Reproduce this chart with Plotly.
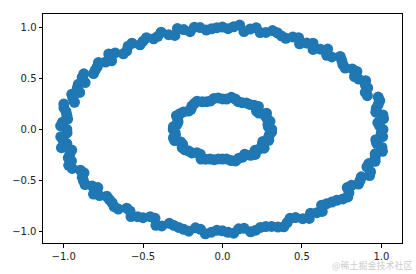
import plotly.graph_objects as go

# outer ring, pass 1
outer_x = [1.010, 0.978, 1.010, 0.968, 0.990, 0.912, 0.914, 0.901, 0.831, 0.817, 0.758, 0.741,
           0.656, 0.616, 0.570, 0.485, 0.443, 0.371, 0.315, 0.237, 0.174, 0.108, 0.035,
           -0.035, -0.102, -0.177, -0.244, -0.300, -0.386, -0.434, -0.500, -0.570, -0.603, -0.676,
           -0.698, -0.781, -0.801, -0.873, -0.865, -0.914, -0.949, -0.932, -0.998, -0.980, -1.008, -0.980,
           -1.018, -0.980, -0.949, -0.971, -0.968, -0.895, -0.883, -0.865, -0.785, -0.774, -0.712,
           -0.682, -0.603, -0.576, -0.500, -0.425, -0.382, -0.306, -0.244, -0.170, -0.108, -0.035,
           0.035, 0.102, 0.177, 0.239, 0.309, 0.386, 0.425, 0.505, 0.554, 0.628, 0.656, 0.719,
           0.789, 0.785, 0.856, 0.874, 0.932, 0.921, 0.961, 1.007, 0.970, 1.008]
outer_y = [0.000, 0.068, 0.142, 0.206, 0.284, 0.332, 0.407, 0.479, 0.519, 0.594, 0.636, 0.716,
           0.728, 0.788, 0.846, 0.840, 0.908, 0.918, 0.970, 0.951, 0.985, 1.024, 0.989,
           0.999, 0.975, 1.004, 0.980, 0.923, 0.955, 0.890, 0.866, 0.846, 0.772, 0.751,
           0.674, 0.656, 0.582, 0.546, 0.460, 0.407, 0.345, 0.267, 0.212, 0.138, 0.070, 0.000,
           -0.071, -0.138, -0.202, -0.278, -0.352, -0.399, -0.470, -0.540, -0.570, -0.649, -0.688,
           -0.758, -0.772, -0.854, -0.866, -0.872, -0.946, -0.942, -0.980, -0.965, -1.024, -0.989,
           -1.009, -0.975, -1.004, -0.961, -0.951, -0.955, -0.872, -0.875, -0.821, -0.804, -0.728, -0.695,
           -0.662, -0.570, -0.535, -0.465, -0.415, -0.335, -0.276, -0.214, -0.136, -0.070]

# outer ring, pass 2
outer2_x = [0.989, 1.014, 0.965, 0.980, 0.980, 0.899, 0.899, 0.857, 0.846, 0.772, 0.751, 0.688,
            0.662, 0.570, 0.530, 0.479, 0.399, 0.345, 0.273, 0.212, 0.135, 0.070,
            -1.019, -0.975, -0.985, -0.999, -0.942, -0.899, -0.908, -0.883, -0.812, -0.788, -0.736,
            -0.716, -0.624, -0.594, -0.519, -0.479, -0.407, -0.339, -0.284, -0.204, -0.141, -0.069,
            -0.979, -1.004, -1.014, -0.961, -0.951, -0.946, -0.872, -0.875, -0.821, -0.812, -0.728,
            -0.695, -0.656, -0.582, -0.535, -0.455, -0.419, -0.335, -0.276, -0.212, -0.138, -0.070,
            0.999, 0.965, 1.004, 0.961, 0.961, 0.909, 0.926, 0.866, 0.812, 0.796, 0.758,
            0.688, 0.624, 0.594, 0.546, 0.460, 0.407, 0.349, 0.273, 0.210, 0.136, 0.071,
            0.000, 0.000]
outer2_y = [0.035, 0.107, 0.170, 0.244, 0.318, 0.363, 0.438, 0.495, 0.570, 0.603, 0.676, 0.712,
            0.789, 0.785, 0.848, 0.901, 0.895, 0.949, 0.952, 0.998, 0.961, 1.008,
            0.036, 0.102, 0.174, 0.249, 0.306, 0.363, 0.443, 0.510, 0.548, 0.616, 0.662,
            0.741, 0.743, 0.817, 0.831, 0.901, 0.914, 0.930, 0.990, 0.959, 1.000, 0.988,
            -0.034, -0.106, -0.179, -0.239, -0.309, -0.382, -0.425, -0.505, -0.554, -0.634, -0.656,
            -0.719, -0.781, -0.801, -0.856, -0.856, -0.941, -0.921, -0.961, -0.998, -0.980, -1.008,
            -0.035, -0.101, -0.177, -0.239, -0.312, -0.367, -0.452, -0.500, -0.548, -0.622, -0.682,
            -0.712, -0.743, -0.817, -0.873, -0.865, -0.914, -0.958, -0.952, -0.988, -0.970, -1.018,
            1.005, -0.995]

# inner ring, pass 1
inner_x = [0.310, 0.286, 0.282, 0.277, 0.214, 0.199, 0.150, 0.099, 0.056,
           0.000, -0.054, -0.099, -0.160, -0.193, -0.214, -0.268, -0.282, -0.286,
           -0.310, -0.296, -0.301, -0.251, -0.237, -0.193, -0.140, -0.106, -0.052,
           0.000, 0.054, 0.103, 0.140, 0.206, 0.230, 0.251, 0.291, 0.295]
inner_y = [0.000, 0.050, 0.103, 0.160, 0.180, 0.237, 0.260, 0.273, 0.315,
           0.300, 0.305, 0.273, 0.277, 0.230, 0.180, 0.155, 0.103, 0.050,
           0.000, -0.052, -0.109, -0.145, -0.199, -0.230, -0.242, -0.291, -0.296,
           -0.290, -0.305, -0.282, -0.242, -0.245, -0.193, -0.145, -0.106, -0.052]

# inner ring, pass 2
inner2_x = [0.289, 0.299, 0.272, 0.229, 0.226, 0.172, 0.123, 0.080, 0.026,
            -0.309, -0.280, -0.290, -0.246, -0.198, -0.178, -0.127, -0.075, -0.027,
            -0.299, -0.309, -0.263, -0.254, -0.212, -0.161, -0.135, -0.078, -0.025,
            0.309, 0.290, 0.254, 0.262, 0.205, 0.178, 0.127, 0.083, 0.025]
inner2_y = [0.025, 0.080, 0.127, 0.161, 0.226, 0.246, 0.263, 0.299, 0.299,
            0.027, 0.075, 0.135, 0.172, 0.198, 0.254, 0.272, 0.280, 0.309,
            -0.026, -0.083, -0.123, -0.178, -0.212, -0.229, -0.290, -0.290, -0.289,
            -0.027, -0.078, -0.118, -0.184, -0.205, -0.254, -0.272, -0.309, -0.289]

tick_vals = [-1.0, -0.5, 0.0, 0.5, 1.0]
tick_text = ["\u22121.0", "\u22120.5", "0.0", "0.5", "1.0"]

color = "#1f77b4"
all_x = outer_x + outer2_x + inner_x + inner2_x
all_y = outer_y + outer2_y + inner_y + inner2_y

fig = go.Figure()
fig.add_trace(go.Scatter(x=all_x, y=all_y, mode="markers",
                         marker=dict(color=color, size=11, line=dict(width=0)),
                         hoverinfo="skip"))

axis_common = dict(showgrid=False, zeroline=False, showline=True, linecolor="black",
                   linewidth=1, mirror=True, ticks="outside", ticklen=3.5, tickwidth=0.8,
                   tickcolor="black", tickvals=tick_vals, ticktext=tick_text,
                   tickfont=dict(family="DejaVu Sans", size=10, color="#222222"))
fig.update_layout(
    width=416, height=274,
    margin=dict(l=38, r=14, t=14, b=25),
    paper_bgcolor="white", plot_bgcolor="white",
    showlegend=False,
    xaxis=dict(range=[-1.13, 1.13], **axis_common),
    yaxis=dict(range=[-1.114, 1.133], **axis_common),
)
fig.add_annotation(text="@稀土掘金技术社区", xref="paper", yref="paper", x=1.035, y=-0.1,
                   xanchor="right", yanchor="middle", showarrow=False,
                   font=dict(family="Noto Sans CJK SC", size=9, color="#cccccc"))
fig.write_html("out.html")
